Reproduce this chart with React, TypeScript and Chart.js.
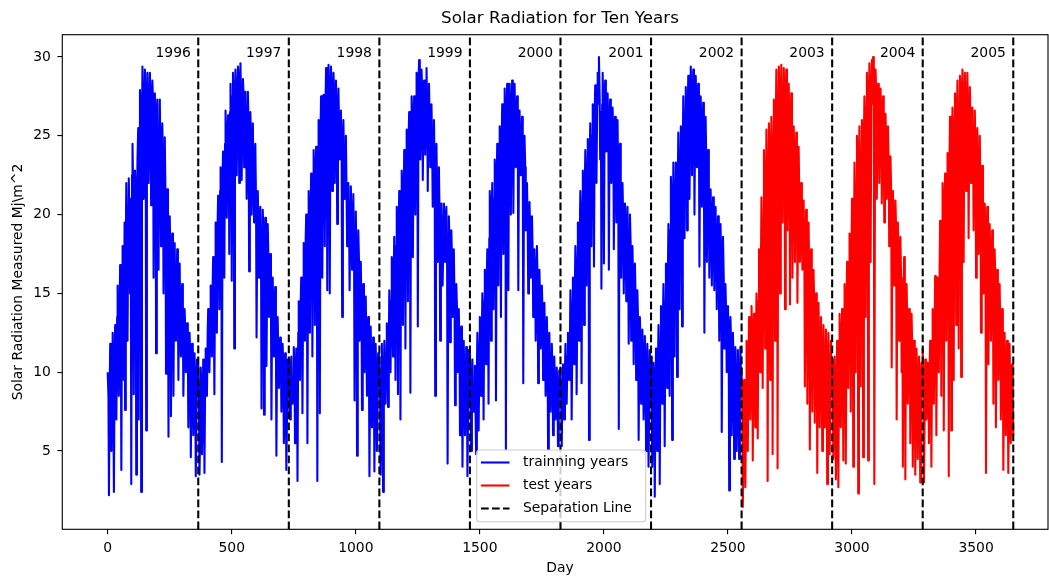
import React, { useEffect, useRef } from 'react';
import { Chart, registerables } from 'chart.js';

Chart.register(...registerables);

// ---- data read from the reference: one array per year, sampled on day 5j,
// plus a second array per year sampled on day 5j+3 ----
const DAY_STEP = 5;
const MID_OFFSET = 3;
const DAYS_PER_YEAR = 365;
const yearLabels = ['1996', '1997', '1998', '1999', '2000', '2001', '2002', '2003', '2004', '2005'];

const y1996 = [10.0, 2.2, 11.8, 5.0, 12.5, 2.4, 13.0, 7.0, 15.5, 8.5,
  16.8, 3.8, 18.0, 9.5, 7.6, 22.0, 12.0, 22.3, 15.0, 2.9,
  24.5, 8.6, 22.8, 3.5, 23.5, 7.0, 27.9, 2.4, 29.4, 21.0,
  29.2, 6.3, 29.0, 22.0, 29.0, 20.6, 28.5, 16.0, 27.7, 11.2,
  27.3, 16.5, 27.3, 18.0, 25.8, 15.0, 24.9, 9.9, 21.6, 5.9,
  19.9, 7.2, 18.8, 8.5, 18.2, 12.0, 17.8, 9.5, 16.9, 11.0,
  15.6, 8.5, 14.0, 10.0, 13.1, 6.5, 12.5, 4.6, 11.8, 6.0,
  11.2, 3.4, 10.8];
const m1996 = [8.5, 9.0, 6.5, 10.5, 7.5, 11.0, 12.0, 13.5, 9.5, 14.0,
  12.5, 16.0, 14.0, 19.5, 18.5, 19.0, 20.0, 18.5, 21.0, 22.5,
  21.0, 20.0, 21.5, 19.0, 25.5, 24.0, 26.5, 25.0, 27.5, 25.5,
  27.0, 26.0, 27.5, 25.5, 27.0, 26.0, 27.0, 24.5, 25.5, 26.0,
  24.0, 25.5, 23.0, 24.5, 23.0, 22.0, 21.0, 20.0, 19.5, 17.5,
  17.0, 16.5, 15.0, 16.0, 13.5, 15.5, 14.0, 15.0, 12.5, 14.0,
  13.0, 12.0, 12.5, 10.5, 11.5, 10.0, 11.0, 9.5, 10.0, 8.5,
  9.0, 8.0, 9.5];
const y1997 = [10.5, 3.5, 10.3, 4.8, 10.8, 3.6, 11.5, 8.5, 14.0, 10.0,
  15.5, 11.0, 17.3, 8.6, 19.5, 12.5, 21.2, 14.0, 23.0, 4.3,
  24.0, 16.0, 26.6, 19.8, 26.3, 17.5, 28.3, 15.8, 29.0, 11.5,
  29.2, 22.5, 29.4, 22.0, 29.6, 22.2, 28.6, 23.0, 27.8, 21.0,
  27.8, 16.4, 26.5, 20.0, 25.8, 19.5, 24.5, 12.2, 21.5, 16.0,
  20.5, 7.7, 20.3, 7.3, 19.8, 10.4, 19.4, 13.5, 17.5, 7.0,
  16.0, 11.0, 15.4, 4.7, 13.5, 9.0, 12.2, 7.5, 11.8, 5.5,
  11.2, 3.8, 10.8];
const m1997 = [8.0, 6.5, 9.0, 7.5, 9.5, 10.0, 9.5, 12.5, 11.5, 13.0,
  14.0, 15.5, 13.5, 17.0, 18.0, 19.5, 20.0, 21.5, 20.5, 22.5,
  22.0, 24.5, 23.5, 25.0, 24.0, 26.5, 25.0, 27.5, 26.0, 27.5,
  28.0, 27.0, 28.5, 26.5, 27.0, 26.5, 27.5, 25.0, 26.0, 24.5,
  25.5, 24.0, 24.5, 23.5, 22.0, 22.5, 20.5, 19.5, 18.5, 19.0,
  18.0, 17.0, 18.5, 16.0, 17.5, 16.5, 17.0, 15.5, 14.5, 15.0,
  13.5, 14.0, 12.0, 12.5, 11.0, 10.5, 11.0, 9.5, 10.0, 8.0,
  9.0, 7.5, 9.5];
const y1998 = [10.8, 7.0, 11.0, 8.0, 11.6, 5.5, 11.5, 3.1, 14.5, 9.5,
  16.0, 7.4, 18.2, 12.0, 20.0, 5.5, 21.5, 12.5, 22.6, 11.0,
  24.1, 13.0, 24.3, 3.1, 26.0, 7.4, 27.5, 16.0, 27.6, 18.0,
  29.3, 15.2, 29.5, 15.0, 29.4, 21.5, 29.0, 22.0, 28.5, 19.4,
  28.0, 23.5, 26.6, 13.5, 26.0, 21.0, 25.0, 18.0, 22.0, 15.2,
  21.8, 16.5, 21.3, 8.2, 20.2, 4.7, 19.0, 12.0, 17.0, 7.6,
  15.6, 10.0, 14.8, 8.5, 13.5, 3.4, 12.9, 6.5, 12.2, 3.7,
  11.8, 5.0, 11.2];
const m1998 = [9.5, 10.0, 8.5, 9.0, 10.0, 9.5, 10.5, 12.5, 11.0, 14.5,
  13.5, 16.0, 15.5, 18.5, 17.0, 19.5, 18.5, 20.0, 21.0, 20.0,
  22.5, 21.5, 20.5, 23.5, 24.5, 25.5, 24.0, 25.5, 26.0, 27.0,
  27.5, 26.5, 28.0, 27.0, 27.5, 26.0, 27.5, 26.5, 25.5, 26.5,
  25.0, 24.5, 23.5, 24.0, 23.0, 22.5, 21.0, 21.5, 19.5, 20.0,
  19.0, 18.5, 17.5, 18.0, 16.5, 16.0, 17.0, 15.5, 14.0, 13.5,
  13.0, 12.5, 11.5, 12.0, 10.5, 11.0, 10.0, 10.5, 9.0, 10.0,
  9.5, 8.0, 9.5];
const y1999 = [11.0, 3.5, 11.8, 2.4, 12.0, 8.0, 13.1, 7.8, 15.2, 10.0,
  17.3, 11.0, 18.6, 9.5, 20.5, 8.6, 21.5, 7.0, 22.8, 13.0,
  24.1, 11.5, 25.4, 14.5, 26.5, 8.7, 27.5, 17.3, 27.5, 20.0,
  29.0, 12.9, 29.8, 23.5, 29.2, 22.2, 28.5, 23.8, 29.3, 21.5,
  28.3, 23.0, 27.0, 20.5, 26.0, 8.5, 24.5, 17.0, 23.0, 12.0,
  20.7, 15.5, 20.7, 17.0, 20.5, 4.2, 19.9, 11.9, 19.0, 13.5,
  17.8, 7.9, 15.6, 10.0, 14.0, 6.0, 12.9, 4.0, 12.0, 6.0,
  11.6, 3.4, 11.4];
const m1999 = [8.5, 9.0, 6.5, 10.0, 10.5, 11.0, 12.0, 11.5, 13.5, 14.5,
  15.0, 16.5, 15.5, 18.0, 17.0, 19.5, 18.5, 20.5, 21.5, 20.0,
  22.5, 23.5, 21.5, 25.0, 24.0, 25.5, 26.0, 24.5, 26.5, 27.5,
  27.0, 28.5, 27.0, 26.0, 27.5, 26.5, 27.0, 27.5, 26.5, 27.0,
  25.5, 25.0, 24.0, 24.5, 22.5, 22.0, 21.0, 21.5, 19.5, 19.0,
  19.0, 18.5, 19.5, 18.0, 17.0, 17.5, 18.0, 16.0, 17.0, 15.5,
  14.5, 13.0, 14.0, 12.5, 11.5, 11.0, 10.0, 10.5, 9.0, 8.5,
  9.5, 8.0, 9.0];
const y2000 = [11.4, 5.0, 10.8, 7.5, 10.4, 4.8, 12.5, 6.3, 13.5, 8.5,
  15.0, 7.0, 16.5, 10.5, 17.8, 8.0, 21.5, 12.0, 22.0, 14.0,
  23.5, 8.2, 24.5, 15.5, 25.6, 13.5, 27.0, 17.5, 28.0, 5.1,
  28.3, 15.2, 28.3, 20.0, 28.5, 20.1, 28.3, 23.0, 27.5, 15.2,
  26.6, 22.5, 26.2, 9.3, 25.0, 19.0, 22.0, 15.0, 20.8, 16.0,
  19.9, 13.5, 17.8, 12.0, 18.0, 9.3, 16.5, 11.5, 15.5, 9.5,
  14.4, 8.5, 13.5, 5.1, 12.5, 7.5, 11.8, 6.0, 11.0, 7.0,
  10.3, 5.3, 10.1];
const m2000 = [8.5, 9.5, 8.0, 9.0, 7.0, 10.0, 11.0, 10.5, 12.5, 12.0,
  13.0, 14.5, 13.5, 16.0, 15.5, 18.5, 19.5, 20.0, 18.0, 21.0,
  21.5, 22.0, 23.0, 22.5, 24.0, 24.5, 25.5, 26.0, 25.0, 26.5,
  26.0, 27.0, 25.5, 26.5, 27.0, 26.5, 25.5, 26.0, 24.5, 25.0,
  24.5, 23.5, 24.0, 22.5, 23.0, 20.0, 19.0, 18.5, 19.0, 17.5,
  17.5, 16.0, 16.5, 15.0, 15.5, 14.0, 14.5, 13.0, 13.5, 12.5,
  12.0, 11.5, 11.0, 10.5, 10.0, 9.5, 10.0, 8.5, 9.0, 8.0,
  8.5, 7.5, 9.0];
const y2001 = [10.3, 5.3, 10.5, 7.0, 11.8, 8.0, 12.5, 9.5, 15.2, 7.0,
  16.0, 10.5, 18.0, 8.6, 19.5, 12.0, 21.5, 9.3, 22.8, 13.0,
  24.1, 15.5, 24.8, 5.7, 25.8, 18.0, 27.0, 16.7, 28.2, 22.0,
  29.0, 30.0, 23.5, 15.3, 29.0, 16.9, 28.5, 24.0, 27.7, 16.5,
  27.3, 22.0, 26.8, 17.8, 26.2, 19.5, 26.0, 6.4, 24.5, 16.0,
  22.0, 15.0, 20.7, 14.5, 20.5, 11.8, 20.0, 12.0, 18.0, 10.5,
  16.9, 9.5, 15.2, 5.7, 13.5, 8.0, 12.7, 7.0, 12.3, 5.0,
  11.8, 4.0, 11.4];
const m2001 = [8.0, 9.0, 8.5, 10.0, 9.5, 11.0, 10.5, 12.0, 13.5, 12.5,
  14.0, 15.5, 16.5, 15.0, 17.5, 19.0, 20.0, 19.5, 21.0, 21.5,
  22.5, 21.5, 23.0, 24.0, 23.5, 25.0, 24.5, 26.5, 25.5, 27.0,
  28.0, 27.5, 26.5, 27.0, 26.5, 27.0, 26.0, 26.5, 25.0, 25.5,
  25.0, 24.5, 25.0, 24.0, 23.5, 23.5, 22.0, 22.5, 21.0, 20.5,
  19.5, 18.5, 19.0, 18.0, 17.5, 17.0, 18.0, 16.5, 15.5, 15.0,
  14.5, 13.5, 13.0, 12.0, 11.5, 10.5, 11.0, 9.5, 10.0, 9.0,
  9.5, 8.0, 8.5];
const y2002 = [11.0, 4.0, 10.6, 2.1, 11.5, 5.0, 13.0, 2.9, 14.2, 8.0,
  15.6, 5.3, 16.9, 9.0, 19.4, 8.5, 22.4, 5.7, 23.3, 11.0,
  23.3, 9.7, 25.2, 14.0, 25.6, 12.9, 27.5, 18.5, 28.1, 19.0,
  28.8, 21.0, 29.4, 22.5, 29.2, 20.0, 28.8, 23.0, 28.3, 16.7,
  27.5, 20.5, 27.1, 12.5, 26.2, 17.0, 24.1, 16.0, 21.6, 15.5,
  21.1, 15.2, 20.5, 14.0, 19.9, 12.0, 19.4, 6.2, 18.6, 11.5,
  15.6, 10.0, 14.2, 2.5, 13.5, 6.0, 12.5, 4.5, 11.6, 5.0,
  11.4, 4.5, 11.6];
const m2002 = [8.5, 7.0, 9.0, 8.0, 10.0, 10.5, 11.0, 12.0, 11.5, 13.5,
  13.0, 14.5, 14.0, 16.5, 17.5, 19.0, 20.5, 19.5, 21.0, 20.5,
  21.0, 22.5, 23.0, 22.0, 24.0, 24.5, 25.5, 26.0, 25.0, 26.5,
  27.0, 26.5, 27.5, 26.0, 27.0, 26.5, 27.0, 25.5, 26.0, 25.0,
  25.5, 24.0, 25.0, 23.5, 23.0, 22.0, 21.0, 20.0, 19.5, 19.0,
  18.5, 19.0, 17.5, 18.0, 17.0, 16.5, 17.0, 15.5, 16.0, 14.0,
  13.5, 12.5, 12.0, 11.0, 11.5, 10.0, 10.5, 9.0, 9.5, 8.5,
  9.0, 8.0, 9.5];
const y2003 = [10.3, 1.45, 9.5, 2.7, 12.0, 5.0, 13.5, 7.0, 14.2, 4.4,
  13.7, 6.5, 15.0, 5.8, 17.8, 10.0, 21.1, 9.0, 24.1, 11.5,
  25.4, 3.1, 25.8, 9.5, 26.2, 4.8, 27.3, 12.0, 29.2, 3.9,
  29.4, 15.0, 29.5, 19.5, 29.3, 14.0, 29.2, 19.0, 28.3, 14.3,
  27.7, 16.0, 25.6, 17.0, 25.2, 14.4, 24.3, 17.0, 22.0, 16.5,
  20.9, 9.1, 20.3, 8.0, 19.5, 5.1, 17.8, 7.5, 16.5, 6.8,
  15.0, 3.6, 14.4, 6.5, 13.5, 5.0, 13.0, 6.5, 12.7, 2.9,
  12.5, 4.8, 12.0];
const m2003 = [7.5, 6.0, 8.5, 7.0, 10.0, 10.5, 11.5, 10.0, 12.0, 11.0,
  11.5, 12.5, 13.0, 14.5, 15.5, 17.0, 18.5, 19.5, 21.0, 20.0,
  22.5, 21.0, 23.5, 22.0, 24.0, 24.5, 25.5, 26.0, 26.5, 27.0,
  27.5, 26.5, 27.0, 26.0, 27.5, 26.0, 27.0, 25.5, 25.0, 25.5,
  24.5, 23.5, 23.0, 22.5, 22.0, 21.0, 20.5, 19.5, 19.0, 18.0,
  17.5, 18.0, 16.5, 17.0, 15.5, 14.5, 15.0, 13.5, 14.0, 12.5,
  12.0, 12.5, 11.0, 11.5, 10.5, 10.0, 10.5, 9.5, 10.0, 9.0,
  9.5, 8.5, 9.0];
const y2004 = [10.8, 4.5, 11.0, 3.2, 12.0, 2.7, 13.7, 6.5, 14.0, 4.4,
  15.6, 4.2, 17.0, 9.0, 18.8, 7.5, 21.0, 4.0, 23.3, 10.0,
  25.0, 2.3, 25.6, 9.1, 26.0, 4.6, 27.5, 13.5, 29.0, 4.4,
  29.6, 17.0, 29.8, 30.0, 2.9, 29.2, 21.0, 28.3, 22.0, 28.0,
  20.7, 27.5, 19.5, 26.4, 21.0, 25.6, 18.0, 23.7, 10.3, 21.5,
  15.5, 20.9, 7.0, 19.5, 12.0, 18.6, 10.0, 4.0, 17.3, 3.2,
  15.6, 8.0, 14.0, 5.5, 13.7, 4.0, 12.0, 3.5, 11.5, 4.5,
  11.0, 3.0, 10.6];
const m2004 = [8.0, 7.0, 9.0, 6.5, 10.0, 11.0, 10.5, 12.0, 11.0, 12.5,
  13.0, 14.0, 15.0, 14.0, 16.5, 18.0, 19.5, 18.5, 20.5, 21.5,
  22.0, 23.5, 22.5, 24.0, 23.0, 25.0, 26.0, 25.5, 27.0, 26.5,
  28.0, 27.0, 28.5, 27.5, 26.5, 27.5, 26.5, 26.0, 27.0, 26.0,
  25.0, 25.5, 24.0, 24.5, 23.5, 23.0, 22.0, 21.5, 20.0, 19.5,
  18.5, 19.0, 17.5, 17.0, 16.5, 16.0, 15.5, 15.0, 14.5, 14.0,
  13.0, 12.0, 12.5, 11.0, 11.5, 10.0, 10.5, 9.0, 9.5, 8.5,
  9.0, 8.0, 9.0];
const y2005 = [11.5, 3.0, 10.8, 7.0, 10.6, 5.5, 12.0, 4.0, 14.0, 8.0,
  16.1, 6.0, 16.0, 10.0, 19.6, 8.5, 22.0, 6.3, 22.6, 12.0,
  23.9, 3.4, 26.2, 6.3, 26.8, 9.5, 27.7, 13.0, 28.5, 11.5,
  28.8, 9.7, 29.2, 17.0, 29.0, 21.5, 29.0, 18.5, 28.1, 22.0,
  26.8, 19.0, 26.6, 16.0, 25.5, 17.5, 25.0, 12.5, 23.1, 15.0,
  20.7, 3.6, 20.5, 10.5, 19.4, 12.0, 19.0, 8.0, 17.8, 6.5,
  16.5, 9.5, 15.6, 7.0, 14.0, 3.8, 12.5, 6.0, 12.0, 3.6,
  11.8, 5.5, 10.5, 6.0];
const m2005 = [8.5, 7.5, 9.0, 8.0, 9.5, 10.5, 9.5, 11.5, 12.0, 13.0,
  14.0, 13.5, 15.0, 16.5, 17.5, 19.0, 20.5, 19.5, 21.0, 20.0,
  22.0, 23.5, 24.5, 24.0, 25.0, 25.5, 26.0, 26.5, 25.5, 27.0,
  27.5, 26.5, 27.5, 27.0, 26.5, 27.0, 26.0, 26.5, 25.5, 25.0,
  24.5, 25.0, 23.5, 24.0, 23.0, 22.5, 21.5, 21.0, 19.5, 19.0,
  18.5, 18.0, 17.5, 17.0, 16.5, 16.0, 16.5, 15.0, 15.5, 14.0,
  13.5, 13.0, 12.5, 11.5, 11.0, 10.5, 10.0, 9.5, 9.0, 8.5,
  9.0, 8.0, 8.5];

const trainingYears = [y1996, y1997, y1998, y1999, y2000, y2001, y2002];
const trainingMids = [m1996, m1997, m1998, m1999, m2000, m2001, m2002];
const testYears = [y2003, y2004, y2005];
const testMids = [m2003, m2004, m2005];
const separationDays = [365, 730, 1095, 1460, 1825, 2190, 2555, 2920, 3285, 3650];
const xTickValues = [0, 500, 1000, 1500, 2000, 2500, 3000, 3500];
const yTickValues = [5, 10, 15, 20, 25, 30];
const legendLabels = ['trainning years', 'test years', 'Separation Line'];
const legendColors = ['#0000ff', '#ff0000', '#000000'];

const titleText = 'Solar Radiation for Ten Years';
const xTitle = 'Day';
const yTitle = 'Solar Radiation Measured Mj\\m^2';

function toPoints(years: number[][], mids: number[][], firstYearIndex: number) {
  const pts: { x: number; y: number }[] = [];
  years.forEach((vals, k) => {
    const base = (firstYearIndex + k) * DAYS_PER_YEAR;
    vals.forEach((v, j) => {
      pts.push({ x: base + j * DAY_STEP, y: v });
      const m = mids[k][j];
      if (m !== undefined) pts.push({ x: base + j * DAY_STEP + MID_OFFSET, y: m });
    });
  });
  return pts;
}

const FONT = '"DejaVu Sans", sans-serif';
const LW = 2.08;
const DATA_LW = 2.08;
const DASH = [7.7, 3.3];

const decorPlugin = {
  id: 'decor',
  afterDatasetsDraw(chart: any) {
    const { ctx, chartArea, scales } = chart;
    const xs = scales.x;
    const ys = scales.y;
    ctx.save();
    ctx.strokeStyle = '#000';
    ctx.lineWidth = LW;
    ctx.setLineDash(DASH);
    separationDays.forEach((d) => {
      const px = xs.getPixelForValue(d);
      ctx.beginPath();
      ctx.moveTo(px, chartArea.bottom);
      ctx.lineTo(px, chartArea.top);
      ctx.stroke();
    });
    ctx.setLineDash([]);
    ctx.font = '13.9px ' + FONT;
    ctx.fillStyle = '#000';
    ctx.textAlign = 'right';
    ctx.textBaseline = 'alphabetic';
    yearLabels.forEach((lab, k) => {
      ctx.fillText(lab, xs.getPixelForValue(separationDays[k] - 30), ys.getPixelForValue(30) - 0.5);
    });
    ctx.lineWidth = 1.11;
    ctx.strokeRect(chartArea.left, chartArea.top, chartArea.right - chartArea.left, chartArea.bottom - chartArea.top);
    ctx.restore();
  },
  afterDraw(chart: any) {
    const { ctx } = chart;
    ctx.save();
    ctx.fillStyle = '#000';
    ctx.font = '16.7px ' + FONT;
    ctx.textAlign = 'center';
    ctx.textBaseline = 'alphabetic';
    ctx.fillText(titleText, 560, 23);
    ctx.font = '13.9px ' + FONT;
    ctx.fillText(xTitle, 560, 571.5);
    ctx.save();
    ctx.translate(22, 282);
    ctx.rotate(-Math.PI / 2);
    ctx.fillText(yTitle, 0, 0);
    ctx.restore();
    // legend
    const bx = 476.7, by = 450, bw = 169, bh = 71.7, r = 3;
    ctx.beginPath();
    ctx.moveTo(bx + r, by);
    ctx.lineTo(bx + bw - r, by);
    ctx.quadraticCurveTo(bx + bw, by, bx + bw, by + r);
    ctx.lineTo(bx + bw, by + bh - r);
    ctx.quadraticCurveTo(bx + bw, by + bh, bx + bw - r, by + bh);
    ctx.lineTo(bx + r, by + bh);
    ctx.quadraticCurveTo(bx, by + bh, bx, by + bh - r);
    ctx.lineTo(bx, by + r);
    ctx.quadraticCurveTo(bx, by, bx + r, by);
    ctx.closePath();
    ctx.fillStyle = 'rgba(255,255,255,0.8)';
    ctx.fill();
    ctx.strokeStyle = '#cccccc';
    ctx.lineWidth = 1.11;
    ctx.stroke();
    const rows = [462.5, 485.5, 508.5];
    legendLabels.forEach((lab, i) => {
      ctx.strokeStyle = legendColors[i];
      ctx.lineWidth = LW;
      ctx.setLineDash(i === 2 ? DASH : []);
      ctx.beginPath();
      ctx.moveTo(481, rows[i]);
      ctx.lineTo(509.5, rows[i]);
      ctx.stroke();
      ctx.setLineDash([]);
      ctx.fillStyle = '#000';
      ctx.font = '13.9px ' + FONT;
      ctx.textAlign = 'left';
      ctx.textBaseline = 'middle';
      ctx.fillText(lab, 523, rows[i]);
    });
    ctx.restore();
  },
};

export default function App() {
  const canvasRef = useRef<HTMLCanvasElement | null>(null);

  useEffect(() => {
    const canvas = canvasRef.current;
    if (!canvas) return;
    const tickFont = { family: FONT, size: 13.9 };
    const chart = new Chart(canvas, {
      type: 'line',
      data: {
        datasets: [
          {
            label: legendLabels[0],
            data: toPoints(trainingYears, trainingMids, 0),
            borderColor: legendColors[0],
            borderWidth: DATA_LW,
            pointRadius: 0,
            tension: 0,
            fill: false,
            borderJoinStyle: 'round',
          },
          {
            label: legendLabels[1],
            data: toPoints(testYears, testMids, trainingYears.length),
            borderColor: legendColors[1],
            borderWidth: DATA_LW,
            pointRadius: 0,
            tension: 0,
            fill: false,
            borderJoinStyle: 'round',
          },
        ],
      },
      options: {
        animation: false,
        responsive: false,
        maintainAspectRatio: false,
        events: [],
        layout: { padding: { left: 0, right: 1, top: 34.7, bottom: 0 } },
        plugins: {
          legend: { display: false },
          title: { display: false },
          tooltip: { enabled: false },
        },
        scales: {
          x: {
            type: 'linear',
            min: -183,
            max: 3790,
            afterBuildTicks: (s: any) => {
              s.ticks = xTickValues.map((v) => ({ value: v }));
            },
            afterFit: (s: any) => {
              s.height = 47.7;
            },
            grid: { display: true, drawOnChartArea: false, drawTicks: true, tickLength: 4.9, color: '#000', lineWidth: 1.11 },
            border: { display: false },
            ticks: {
              font: tickFont,
              color: '#000',
              padding: 6,
              maxRotation: 0,
              autoSkip: false,
              callback: (v: any) => String(v),
            },
          },
          y: {
            type: 'linear',
            min: 0.032,
            max: 31.415,
            afterBuildTicks: (s: any) => {
              s.ticks = yTickValues.map((v) => ({ value: v }));
            },
            afterFit: (s: any) => {
              s.width = 62.3;
            },
            grid: { display: true, drawOnChartArea: false, drawTicks: true, tickLength: 4.9, color: '#000', lineWidth: 1.11 },
            border: { display: false },
            ticks: { font: tickFont, color: '#000', padding: 6.5, autoSkip: false, callback: (v: any) => String(v) },
          },
        },
      },
      plugins: [decorPlugin],
    } as any);
    return () => chart.destroy();
  }, []);

  return (
    <div style={{ position: 'absolute', left: 0, top: 0, width: 1049, height: 577, background: '#fff' }}>
      <canvas ref={canvasRef} width={1049} height={577} style={{ display: 'block', width: 1049, height: 577 }} />
    </div>
  );
}
